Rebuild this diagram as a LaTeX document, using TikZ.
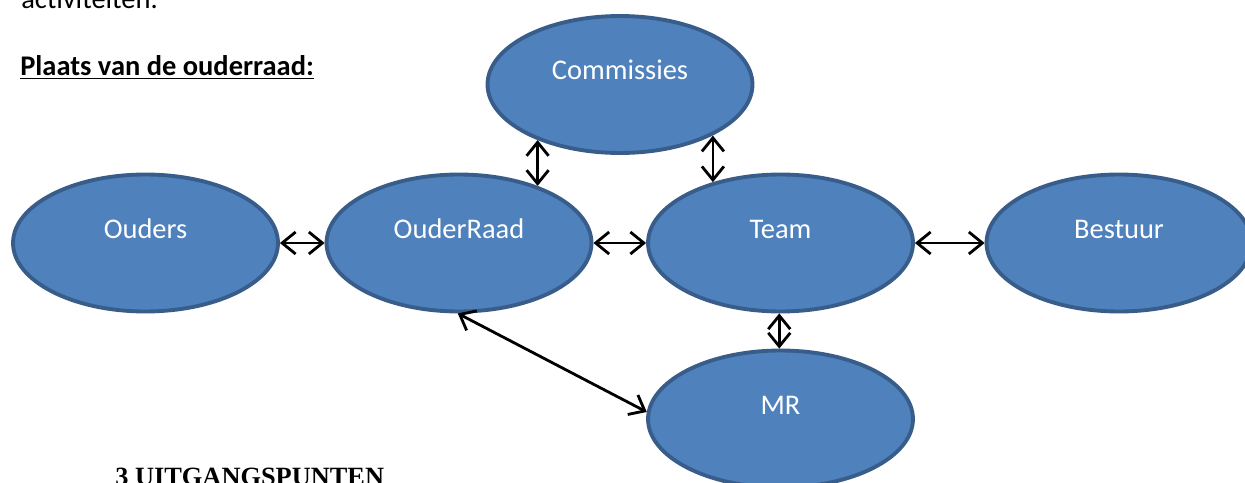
\documentclass[tikz,border=0pt]{standalone}
\usepackage{fontspec}
\setmainfont{Carlito}
\newfontfamily\headfont{Liberation Serif}
\usetikzlibrary{shapes.geometric, arrows.meta}
\definecolor{ovalblue}{RGB}{79,129,189}
\definecolor{ovalborder}{RGB}{56,93,138}

\begin{document}
\begin{tikzpicture}[
    x=0.02cm, y=-0.02cm,
    oval/.style={ellipse, draw=ovalborder, fill=ovalblue, line width=2.2pt,
                 minimum width=5.3cm, minimum height=2.74cm, inner sep=0pt,
                 text=white, font=\fontsize{16.2}{19.4}\selectfont,
                 text height=0pt, text depth=0.2cm},
    txt/.style={anchor=base west, inner sep=0pt, font=\fontsize{16.2}{19.4}\selectfont},
    arrow/.style={{Straight Barb[length=0.27cm, width=0.44cm]}-{Straight Barb[length=0.27cm, width=0.44cm]},
                  line width=1.6pt}
]
    \fill[white] (0,0) rectangle (1245,483);
    \useasboundingbox (0,0) rectangle (1245,483);

    % Surrounding text
    \node[txt] (activ) at (21,9) {activiteiten.};
    \node[txt, font=\fontsize{16.2}{19.4}\selectfont\bfseries] (plaats) at (20,76) {\underline{Plaats van de ouderraad:}};
    \node[txt, font=\fontsize{15}{18}\selectfont\headfont\bfseries] (uitg) at (115,485) {3 UITGANGSPUNTEN};

    % Middle row
    \node[oval] (ouders) at (145.5,243) {Ouders};
    \node[oval] (ouderraad) at (459,243) {OuderRaad};
    \node[oval] (team) at (780.5,243) {Team};
    \node[oval] (bestuur) at (1119,243) {Bestuur};

    % Above and below
    \node[oval] (commissies) at (620,84.5) {Commissies};
    \node[oval] (mr) at (780.5,419) {MR};

    % Arrows
    \draw[arrow] (ouders) -- (ouderraad);
    \draw[arrow] (ouderraad) -- (team);
    \draw[arrow] (team) -- (bestuur);

    \draw[arrow] (ouderraad.36 |- commissies.-146) -- (ouderraad.36);
    \draw[arrow] (team.138 |- commissies.-29) -- (team.138);

    \draw[arrow] (team.-91) -- (mr.91);
    \draw[arrow] (ouderraad.-91) -- (mr.177);
\end{tikzpicture}
\end{document}
